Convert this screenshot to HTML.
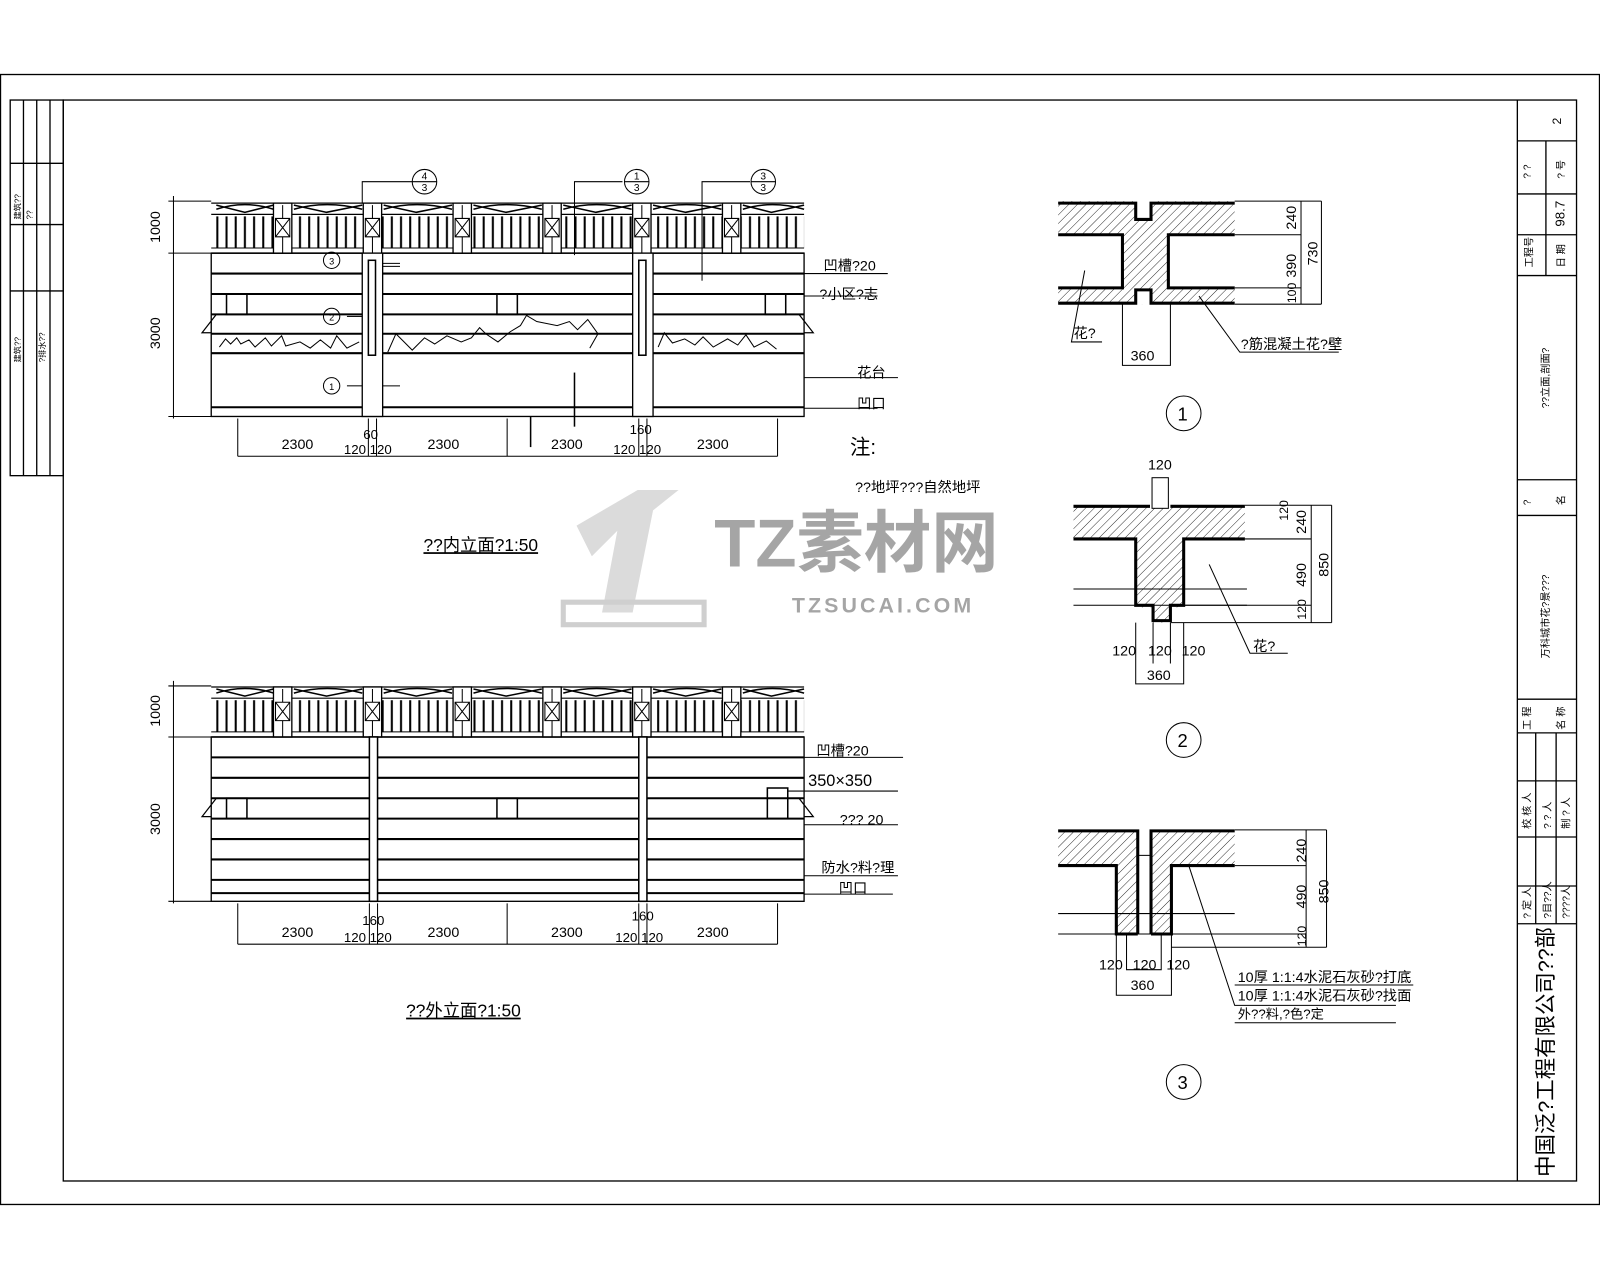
<!DOCTYPE html>
<html><head><meta charset="utf-8">
<style>
html,body{margin:0;padding:0;background:#fff;width:1600px;height:1280px;overflow:hidden}
svg{display:block}
text{font-family:"Liberation Sans","Noto Sans CJK SC","WenQuanYi Zen Hei",sans-serif;fill:#000}
</style></head><body>
<svg width="1600" height="1280" viewBox="0 0 1568 1254" preserveAspectRatio="none" xmlns="http://www.w3.org/2000/svg">
<defs>
<pattern id="bars" width="9" height="40" patternUnits="userSpaceOnUse" x="2">
<rect x="3" y="0" width="2" height="40" fill="#000"/>
</pattern>
<pattern id="hatch" width="6" height="6" patternUnits="userSpaceOnUse" patternTransform="rotate(45)">
<line x1="0" y1="0" x2="0" y2="6" stroke="#000" stroke-width="0.8"/>
</pattern>
<g id="rail">
<line x1="207" y1="199" x2="788" y2="199" stroke="#000" stroke-width="1.2"/>
<line x1="207" y1="210" x2="788" y2="210" stroke="#000" stroke-width="1.2"/>
<rect x="207" y="212" width="581" height="31" fill="url(#bars)"/>
<line x1="207" y1="243" x2="788" y2="243" stroke="#000"/>
<line x1="207" y1="248" x2="788" y2="248" stroke="#000" stroke-width="1.5"/>
<g stroke="#000" stroke-width="1.5" fill="none">
<path d="M212 205 Q240 196 268 205 M212 201 L240 208 L268 201"/>
<path d="M288 205 Q320 196 355 205 M288 201 L320 208 L355 201"/>
<path d="M376 205 Q408 196 443 205 M376 201 L408 208 L443 201"/>
<path d="M464 205 Q496 196 531 205 M464 201 L496 208 L531 201"/>
<path d="M552 205 Q584 196 619 205 M552 201 L584 208 L619 201"/>
<path d="M640 205 Q672 196 707 205 M640 201 L672 208 L707 201"/>
<path d="M728 205 Q756 196 788 205 M728 201 L756 208 L788 201"/>
</g>
<g stroke="#000" fill="#fff" stroke-width="1.3">
<rect x="268" y="199" width="18" height="49"/><rect x="356" y="199" width="18" height="49"/>
<rect x="444" y="199" width="18" height="49"/><rect x="532" y="199" width="18" height="49"/>
<rect x="620" y="199" width="18" height="49"/><rect x="708" y="199" width="18" height="49"/>
</g>
<g stroke="#000" stroke-width="1" fill="none">
<path d="M270 214h14v18h-14zM270 214l14 18M284 214l-14 18"/>
<path d="M358 214h14v18h-14zM358 214l14 18M372 214l-14 18"/>
<path d="M446 214h14v18h-14zM446 214l14 18M460 214l-14 18"/>
<path d="M534 214h14v18h-14zM534 214l14 18M548 214l-14 18"/>
<path d="M622 214h14v18h-14zM622 214l14 18M636 214l-14 18"/>
<path d="M710 214h14v18h-14zM710 214l14 18M724 214l-14 18"/>
<path d="M277 201v13M277 232v16M365 201v13M365 232v16M453 201v13M453 232v16M541 201v13M541 232v16M629 201v13M629 232v16M717 201v13M717 232v16"/>
</g>
</g>
</defs>

<g fill="none" stroke="#000" stroke-width="1.3">
<rect x="0.5" y="73" width="1567" height="1107"/>
<rect x="62" y="98" width="1483" height="1059"/>
<rect x="10" y="98" width="52" height="368"/>
<line x1="23" y1="98" x2="23" y2="466"/><line x1="36" y1="98" x2="36" y2="466"/><line x1="49" y1="98" x2="49" y2="466"/>
<line x1="10" y1="160" x2="62" y2="160"/><line x1="10" y1="220" x2="62" y2="220"/><line x1="10" y1="285" x2="62" y2="285"/>
<line x1="1487" y1="98" x2="1487" y2="1157"/>
<line x1="1515" y1="138" x2="1515" y2="270"/>
<line x1="1487" y1="138" x2="1545" y2="138"/><line x1="1487" y1="190" x2="1545" y2="190"/>
<line x1="1487" y1="230" x2="1545" y2="230"/><line x1="1487" y1="270" x2="1545" y2="270"/>
<line x1="1487" y1="470" x2="1545" y2="470"/><line x1="1487" y1="505" x2="1545" y2="505"/>
<line x1="1487" y1="685" x2="1545" y2="685"/><line x1="1487" y1="718" x2="1545" y2="718"/>
<line x1="1487" y1="765" x2="1545" y2="765"/><line x1="1487" y1="820" x2="1545" y2="820"/>
<line x1="1487" y1="868" x2="1545" y2="868"/><line x1="1487" y1="905" x2="1545" y2="905"/>
<line x1="1505" y1="718" x2="1505" y2="905"/><line x1="1525" y1="718" x2="1525" y2="905"/>
</g>
<g font-size="10">
<text transform="translate(1530,122) rotate(-90)" font-size="12">2</text>
<text transform="translate(1500,175) rotate(-90)">? ?</text><text transform="translate(1533,175) rotate(-90)">? 号</text>
<text transform="translate(1533,222) rotate(-90)" font-size="13">98.7</text>
<text transform="translate(1502,262) rotate(-90)">工程号</text><text transform="translate(1533,262) rotate(-90)">日 期</text>
<text transform="translate(1518,400) rotate(-90)">??立面,剖面?</text>
<text transform="translate(1500,495) rotate(-90)">?</text><text transform="translate(1533,495) rotate(-90)">名</text>
<text transform="translate(1518,645) rotate(-90)">万科城市花?景???</text>
<text transform="translate(1500,715) rotate(-90)">工 程</text><text transform="translate(1533,715) rotate(-90)">名 称</text>
<text transform="translate(1500,812) rotate(-90)">校 核 人</text><text transform="translate(1520,812) rotate(-90)">? ? 人</text><text transform="translate(1538,812) rotate(-90)">制 ? 人</text>
<text transform="translate(1500,900) rotate(-90)">? 定 人</text><text transform="translate(1520,900) rotate(-90)">?目??人</text><text transform="translate(1538,900) rotate(-90)">????人</text>
<text transform="translate(1522,1153) rotate(-90)" font-size="21">中国泛?工程有限公司??部</text>
<text transform="translate(20,215) rotate(-90)" font-size="8">建筑??</text>
<text transform="translate(32,215) rotate(-90)" font-size="8">??</text>
<text transform="translate(20,355) rotate(-90)" font-size="8">建筑??</text>
<text transform="translate(44,355) rotate(-90)" font-size="8">?排水??</text>
</g>

<g opacity="0.35">
<path d="M565 515 L625 480 L665 480 L640 500 L620 600 L590 600 L605 520 L580 545 Z" fill="#999"/>
<path d="M552 590 L690 590 L690 612 L552 612 Z" fill="none" stroke="#777" stroke-width="5"/>
<text x="700" y="555" font-size="66" font-weight="bold" fill="#777">TZ素材网</text>
<text x="776" y="600" font-size="21" font-weight="bold" fill="#777" letter-spacing="3">TZSUCAI.COM</text>
</g>

<use href="#rail"/>
<g stroke="#000" fill="none">
<rect x="207" y="248" width="581" height="160" stroke-width="1.3"/>
<g stroke-width="2">
<line x1="207" y1="268" x2="788" y2="268"/><line x1="207" y1="288" x2="788" y2="288"/>
<line x1="207" y1="308" x2="788" y2="308"/><line x1="207" y1="327" x2="788" y2="327"/>
<line x1="207" y1="346" x2="788" y2="346"/><line x1="207" y1="399" x2="788" y2="399"/>
</g>
<rect x="355" y="248" width="20" height="160" fill="#fff" stroke-width="1.3"/>
<rect x="361" y="255" width="7" height="93" stroke-width="1.5"/>
<rect x="620" y="248" width="20" height="160" fill="#fff" stroke-width="1.3"/>
<rect x="626" y="255" width="7" height="93" stroke-width="1.5"/>
<rect x="222" y="288" width="20" height="20" stroke-width="1.5"/>
<rect x="487" y="288" width="20" height="20" stroke-width="1.5"/>
<rect x="750" y="288" width="20" height="20" stroke-width="1.5"/>
<path d="M207 308 L212 308 L198 326 L207 326" stroke-width="1.2"/>
<path d="M788 308 L783 308 L797 326 L788 326" stroke-width="1.2"/>
<path d="M215 340 l6 -8 l5 5 l6 -6 l4 6 l8 -4 l6 7 l10 -9 l6 8 l10 -10 l4 10 l14 -4 l10 6 l10 -8 l10 8 l6 -12 l10 12 l12 -6" stroke-width="1"/>
<path d="M380 345 l8 -18 l6 6 l10 10 l12 -12 l10 6 l12 -8 l14 6 l10 -4 l8 -10 l6 6 l12 8 l12 -10 l10 -6 l6 -10 l10 6 l20 4 l12 -4 l8 8 l10 -10 l10 14 l-8 14" stroke-width="1"/>
<path d="M645 340 l6 -14 l8 10 l12 -4 l10 6 l8 -8 l10 10 l14 -8 l10 6 l8 -10 l8 12 l12 -6 l10 8" stroke-width="1"/>
<line x1="375" y1="258" x2="392" y2="258"/><line x1="375" y1="261" x2="392" y2="261"/>
<line x1="340" y1="310" x2="355" y2="310"/><line x1="375" y1="378" x2="392" y2="378"/>
<line x1="340" y1="378" x2="355" y2="378"/>
<line x1="563" y1="365" x2="563" y2="418" stroke-width="1.5"/>
<line x1="688" y1="250" x2="688" y2="275"/>
<line x1="520" y1="408" x2="520" y2="438" stroke-width="1.5"/>
</g>
<g stroke="#000" fill="none" stroke-width="1">
<circle cx="325" cy="255" r="8"/><circle cx="325" cy="310" r="8"/><circle cx="325" cy="378" r="8"/>
<path d="M355 199 V178 H404 M563 250 V178 H610 M688 250 V178 H735"/>
<circle cx="416" cy="178" r="12"/><line x1="404" y1="178" x2="428" y2="178"/>
<circle cx="624" cy="178" r="12"/><line x1="612" y1="178" x2="636" y2="178"/>
<circle cx="748" cy="178" r="12"/><line x1="736" y1="178" x2="760" y2="178"/>
<path d="M788 268 H870 M788 290 H860 M788 370 H880 M788 400 H860"/>
</g>
<g font-size="10" text-anchor="middle">
<text x="416" y="176">4</text><text x="416" y="187">3</text>
<text x="624" y="176">1</text><text x="624" y="187">3</text>
<text x="748" y="176">3</text><text x="748" y="187">3</text>
<text x="325" y="259" font-size="9">3</text><text x="325" y="314" font-size="9">2</text><text x="325" y="382" font-size="9">1</text>
</g>
<g font-size="14">
<text x="807" y="265">凹槽?20</text><text x="803" y="293">?小区?志</text>
<text x="840" y="370">花台</text><text x="840" y="400">凹口</text>
<text x="833" y="445" font-size="20">注:</text>
<text x="838" y="482">??地坪???自然地坪</text>
<text x="415" y="540" font-size="17" text-decoration="underline">??内立面?1:50</text>
</g>
<g stroke="#000" fill="none">
<line x1="165" y1="197" x2="207" y2="197"/><line x1="165" y1="248" x2="355" y2="248"/><line x1="165" y1="408" x2="207" y2="408"/>
<line x1="170" y1="192" x2="170" y2="410"/>
<line x1="233" y1="447" x2="762" y2="447"/>
<path d="M233 410V447M361 410V447M369 410V447M497 410V447M626 410V447M634 410V447M762 410V447"/>
</g>
<g font-size="14">
<text transform="translate(157,238) rotate(-90)">1000</text>
<text transform="translate(157,342) rotate(-90)">3000</text>
<text x="276" y="440">2300</text><text x="419" y="440">2300</text><text x="540" y="440">2300</text><text x="683" y="440">2300</text>
<text x="356" y="430" font-size="13">60</text><text x="617" y="425" font-size="13">160</text>
<text x="337" y="445" font-size="13">120 120</text><text x="601" y="445" font-size="13">120 120</text>
</g>

<use href="#rail" transform="translate(0,474)"/>
<g stroke="#000" fill="none">
<rect x="207" y="722" width="581" height="161" stroke-width="1.3"/>
<g stroke-width="2">
<line x1="207" y1="742" x2="788" y2="742"/><line x1="207" y1="762" x2="788" y2="762"/>
<line x1="207" y1="782" x2="788" y2="782"/><line x1="207" y1="802" x2="788" y2="802"/>
<line x1="207" y1="822" x2="788" y2="822"/><line x1="207" y1="842" x2="788" y2="842"/>
<line x1="207" y1="862" x2="788" y2="862"/><line x1="207" y1="875" x2="788" y2="875"/>
</g>
<rect x="362" y="722" width="8" height="161" fill="#fff" stroke-width="1.5"/>
<rect x="626" y="722" width="8" height="161" fill="#fff" stroke-width="1.5"/>
<rect x="222" y="782" width="20" height="20" stroke-width="1.5"/>
<rect x="487" y="782" width="20" height="20" stroke-width="1.5"/>
<rect x="752" y="772" width="20" height="30" stroke-width="1.5"/>
<path d="M207 782 L212 782 L198 800 L207 800" stroke-width="1.2"/>
<path d="M788 782 L783 782 L797 800 L788 800" stroke-width="1.2"/>
<path d="M788 742 H885 M772 775 H880 M788 808 H880 M788 858 H880 M788 876 H875"/>
<line x1="165" y1="672" x2="207" y2="672"/><line x1="165" y1="722" x2="207" y2="722"/><line x1="165" y1="883" x2="207" y2="883"/>
<line x1="170" y1="667" x2="170" y2="885"/>
<line x1="233" y1="925" x2="762" y2="925"/>
<path d="M233 885V925M362 885V925M370 885V925M497 885V925M626 885V925M634 885V925M762 885V925"/>
</g>
<g font-size="14">
<text x="800" y="740">凹槽?20</text><text x="792" y="770" font-size="16">350×350</text>
<text x="823" y="808">??? 20</text><text x="805" y="855">防水?料?理</text><text x="822" y="875">凹口</text>
<text transform="translate(157,712) rotate(-90)">1000</text>
<text transform="translate(157,818) rotate(-90)">3000</text>
<text x="276" y="918">2300</text><text x="419" y="918">2300</text><text x="540" y="918">2300</text><text x="683" y="918">2300</text>
<text x="355" y="906" font-size="13">160</text><text x="619" y="902" font-size="13">160</text>
<text x="337" y="923" font-size="13">120 120</text><text x="603" y="923" font-size="13">120 120</text>
<text x="398" y="996" font-size="17" text-decoration="underline">??外立面?1:50</text>
</g>

<g stroke="#000">
<path d="M1037 197 H1113 V215 H1128 V197 H1210 V230 H1145 V282 H1210 V298 H1037 V282 H1100 V230 H1037 Z" fill="url(#hatch)" stroke="none"/>
<rect x="1113" y="284" width="15" height="14" fill="#fff" stroke="none"/>
<g fill="none" stroke-width="3">
<path d="M1037 199 H1113 V215 H1128 V199 H1210"/>
<path d="M1037 230 H1100 V282 H1037"/>
<path d="M1210 230 H1145 V282 H1210"/>
<path d="M1037 297 H1113 V284 H1128 V297 H1210"/>
</g>
<g fill="none" stroke-width="1">
<path d="M1210 197 H1295 M1210 230 H1275 M1210 282 H1275 M1210 298 H1295 M1275 197 V298 M1295 197 V298"/>
<path d="M1100 298 V358 H1147 V298"/>
<path d="M1063 265 L1050 335 H1080 M1175 290 L1215 345 H1312"/>
</g>
</g>
<g font-size="14">
<text transform="translate(1270,225) rotate(-90)">240</text>
<text transform="translate(1270,272) rotate(-90)">390</text>
<text transform="translate(1270,297) rotate(-90)" font-size="12">100</text>
<text transform="translate(1291,260) rotate(-90)">730</text>
<text x="1108" y="353">360</text>
<text x="1052" y="331">花?</text>
<text x="1216" y="342">?筋混凝土花?壁</text>
</g>
<circle cx="1160" cy="405" r="17" fill="none" stroke="#000"/>
<text x="1154" y="412" font-size="18">1</text>

<g stroke="#000">
<path d="M1052 495 H1220 V528 H1160 V595 H1147 V610 H1130 V595 H1113 V528 H1052 Z" fill="url(#hatch)" stroke="none"/>
<rect x="1129" y="468" width="16" height="30" fill="#fff" stroke-width="1"/>
<g fill="none" stroke-width="3">
<path d="M1052 496 H1127 M1147 496 H1220"/>
<path d="M1052 528 H1113 V593 H1130 V608 H1147 V593 H1160 V528 H1220"/>
</g>
<g fill="none" stroke-width="1">
<path d="M1052 577 H1222 M1052 593 H1222"/>
<path d="M1220 495 H1305 M1220 528 H1285 M1160 593 H1285 M1147 610 H1305 M1285 495 V610 M1305 495 V610"/>
<path d="M1113 610 V670 H1160 V610 M1130 610 V650 M1147 610 V650"/>
<path d="M1185 553 L1225 640 H1262"/>
</g>
</g>
<g font-size="14">
<text x="1125" y="460">120</text>
<text transform="translate(1262,510) rotate(-90)" font-size="12">120</text>
<text transform="translate(1280,523) rotate(-90)">240</text>
<text transform="translate(1280,575) rotate(-90)">490</text>
<text transform="translate(1280,607) rotate(-90)" font-size="12">120</text>
<text transform="translate(1302,565) rotate(-90)">850</text>
<text x="1090" y="642">120</text><text x="1125" y="642">120</text><text x="1158" y="642">120</text>
<text x="1124" y="666">360</text>
<text x="1228" y="638">花?</text>
</g>
<circle cx="1160" cy="725" r="17" fill="none" stroke="#000"/>
<text x="1154" y="732" font-size="18">2</text>

<g stroke="#000">
<path d="M1037 813 H1115 V915 H1094 V848 H1037 Z" fill="url(#hatch)" stroke="none"/>
<path d="M1128 813 H1210 V848 H1148 V915 H1128 Z" fill="url(#hatch)" stroke="none"/>
<g fill="none" stroke-width="3">
<path d="M1037 814 H1115 V915 M1037 848 H1094 V915 H1115"/>
<path d="M1128 915 V814 H1210 M1210 848 H1148 V915 H1128"/>
</g>
<g fill="none" stroke-width="1">
<path d="M1115 838 H1128"/>
<path d="M1037 895 H1210 M1037 915 H1210"/>
<path d="M1210 813 H1300 M1210 848 H1280 M1148 915 H1280 M1148 928 H1300 M1280 813 V928 M1300 813 V928"/>
<path d="M1094 915 V975 H1148 V915 M1104 915 V950 H1138 V915"/>
<path d="M1165 848 L1210 985 H1368 M1210 965 H1385 M1210 1002 H1368"/>
</g>
</g>
<g font-size="14">
<text transform="translate(1280,845) rotate(-90)">240</text>
<text transform="translate(1280,890) rotate(-90)">490</text>
<text transform="translate(1280,927) rotate(-90)" font-size="12">120</text>
<text transform="translate(1302,885) rotate(-90)">850</text>
<text x="1077" y="950">120</text><text x="1110" y="950">120</text><text x="1143" y="950">120</text>
<text x="1108" y="970">360</text>
<text x="1213" y="962">10厚  1:1:4水泥石灰砂?打底</text>
<text x="1213" y="980">10厚  1:1:4水泥石灰砂?找面</text>
<text x="1213" y="998" font-size="13">外??料,?色?定</text>
</g>
<circle cx="1160" cy="1060" r="17" fill="none" stroke="#000"/>
<text x="1154" y="1067" font-size="18">3</text>
</svg>
</body></html>
